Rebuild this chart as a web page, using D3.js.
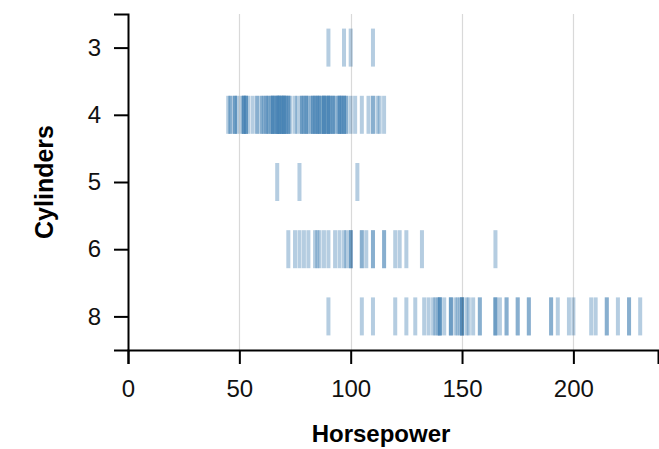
<!DOCTYPE html>
<html>
<head>
<meta charset="utf-8">
<script src="https://cdn.jsdelivr.net/npm/d3@7"></script>
<style>
  html, body { margin: 0; padding: 0; background: #fff; }
  svg { display: block; }
</style>
</head>
<body>
<svg id="chart" width="659" height="449"></svg>
<script>
// ---- data (horsepower of each car, grouped by cylinder count) ----
const categories = ["3", "4", "5", "6", "8"];
const hp3 = [90, 97, 100, 110];
const hp4 = [45, 46, 46, 48, 48, 48, 49, 51, 52, 52, 52, 52, 53, 53, 53, 54,
  56, 58, 58,
  60, 60, 61, 62, 62, 63, 63, 64, 65, 65, 65, 65, 65, 66, 67, 67, 67, 67, 67, 68, 68, 68, 68, 69, 69, 69,
  70, 70, 70, 70, 70, 71, 71, 72, 72, 72, 73,
  75, 76,
  78, 78, 78, 79, 80, 80, 80, 81, 82, 83, 83, 83, 84, 84, 85, 85, 85, 86, 86, 86, 87, 88, 88, 88, 88, 88,
  89, 90, 90, 90, 90, 90, 91, 92, 92, 92, 93, 94,
  95, 95, 95, 95, 96, 96, 97, 97, 97, 98, 98,
  100, 102, 105, 108, 110, 110, 112, 113, 115];
const hp5 = [67, 77, 103];
const hp6 = [72, 75, 77, 79, 81, 84, 85, 86, 88, 90, 93, 95, 97, 98, 100, 100, 100,
  105, 105, 107, 110, 110, 115, 115, 120, 122, 125, 132, 165];
const hp8 = [90, 105, 110, 120, 125, 129,
  133, 135, 137, 138, 139, 140, 140, 140, 140, 142,
  145, 145, 145, 147, 148, 149, 150, 150, 150, 150, 152, 153, 155,
  158, 158, 165, 165, 165, 167, 170, 170, 175, 175, 180, 180,
  190, 190, 193, 198, 200, 208, 210, 215, 215, 220, 225, 225, 230];
const xTicks = [0, 50, 100, 150, 200];
const xDomain = [0, 238];
const xTitle = "Horsepower";
const yTitle = "Cylinders";

(function () {
const groups = [hp3, hp4, hp5, hp6, hp8];
const rows = [];
groups.forEach((arr, i) => arr.forEach(v => rows.push({ cyl: categories[i], hp: v })));

// ---- layout ----
const mLeft = 128, mRight = 658, mTop = 14, mBottom = 350;
const svg = d3.select("#chart");
const font = "'Liberation Sans', Arial, Helvetica, sans-serif";

const x = d3.scaleLinear().domain(xDomain).range([mLeft, mRight]);
const y = d3.scalePoint().domain(categories).range([mTop, mBottom]).padding(0.5);

// marks
svg.append("g")
  .selectAll("rect")
  .data(rows)
  .join("rect")
  .attr("x", d => x(d.hp) - 2)
  .attr("width", 4)
  .attr("y", d => y(d.cyl) - 19)
  .attr("height", 38)
  .attr("fill", "#4682b4")
  .attr("fill-opacity", 0.4);

// grid (drawn over marks)
svg.append("g")
  .selectAll("line")
  .data(xTicks.filter(t => t > 0))
  .join("line")
  .attr("x1", d => Math.round(x(d)) + 0.5)
  .attr("x2", d => Math.round(x(d)) + 0.5)
  .attr("y1", mTop)
  .attr("y2", mBottom)
  .attr("stroke", "#000")
  .attr("stroke-opacity", 0.15)
  .attr("stroke-width", 1.2);

// x axis
const gx = svg.append("g")
  .attr("transform", `translate(0,${mBottom})`)
  .call(d3.axisBottom(x).tickValues(xTicks).tickSize(14).tickPadding(16));
gx.selectAll("path, line").attr("stroke", "#000").attr("stroke-width", 2);
gx.selectAll("text").attr("font-family", font).attr("font-size", 24).attr("fill", "#111");

// y axis
const gy = svg.append("g")
  .attr("transform", `translate(${mLeft},0)`)
  .call(d3.axisLeft(y).tickSize(14).tickPadding(13));
gy.selectAll("path, line").attr("stroke", "#000").attr("stroke-width", 2);
gy.selectAll("text").attr("font-family", font).attr("font-size", 24).attr("fill", "#111");

// titles
svg.append("text")
  .attr("x", 381).attr("y", 442)
  .attr("text-anchor", "middle")
  .attr("font-family", font).attr("font-weight", "bold").attr("font-size", 24)
  .text(xTitle);

svg.append("text")
  .attr("transform", `translate(53,${(mTop + mBottom) / 2}) rotate(-90)`)
  .attr("text-anchor", "middle")
  .attr("font-family", font).attr("font-weight", "bold").attr("font-size", 25)
  .text(yTitle);
})();
</script>
</body>
</html>
